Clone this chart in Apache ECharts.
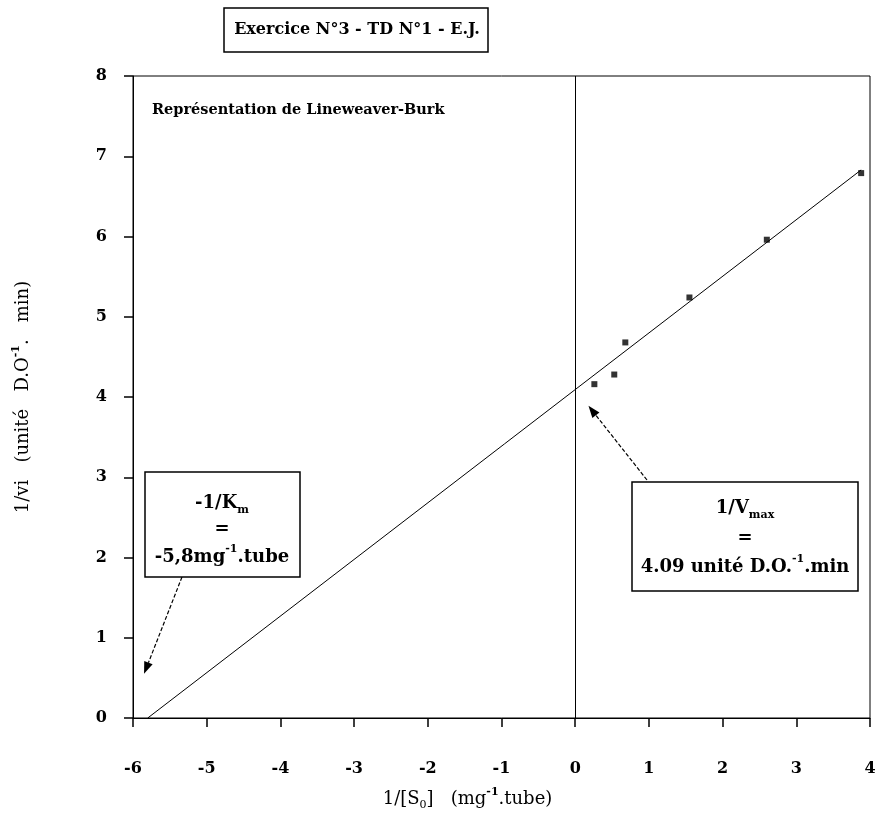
<!DOCTYPE html>
<html>
<head>
<meta charset="utf-8">
<script src="https://cdn.jsdelivr.net/npm/echarts@6/dist/echarts.min.js"></script>
<style>
html, body { margin: 0; padding: 0; background: #fff; }
#main { width: 875px; height: 839px; }
</style>
</head>
<body>
<div id="main"></div>
<script>
// mesures : 1/[S0] (mg-1.tube) et 1/vi (unité D.O-1.min)
var invS = [0.26, 0.53, 0.68, 1.55, 2.6, 3.88];
var invV = [4.16, 4.28, 4.68, 5.24, 5.96, 6.79];
// droite de Lineweaver-Burk, de -1/Km jusqu'au dernier point
var fitX = [-5.8, 3.88];
var fitY = [0, 6.83];
// intersections avec les axes
var kmInv = -5.8;
var vmaxInv = 4.09;
var xTicks = [-6, -5, -4, -3, -2, -1, 0, 1, 2, 3, 4];
var yTicks = [0, 1, 2, 3, 4, 5, 6, 7, 8];

var SERIF = '"DejaVu Serif", "Liberation Serif", serif';

var myChart = echarts.init(document.getElementById('main'));

var options = {
    animation: false,
    backgroundColor: '#fff',
    grid: {
        left: 133, right: 5, top: 76, bottom: 121,
        outerBoundsMode: 'none',
        containLabel: false,
        show: true, borderColor: '#000', borderWidth: 1
    },
    xAxis: {
        type: 'value',
        min: xTicks[0], max: xTicks[xTicks.length - 1], interval: 1,
        axisLine: { show: true, onZero: false, lineStyle: { color: '#000', width: 1 } },
        axisTick: { show: true, inside: false, length: 9, lineStyle: { color: '#000', width: 1.5 } },
        axisLabel: { margin: 43, color: '#000', fontFamily: SERIF, fontWeight: 'bold', fontSize: 16 },
        splitLine: { show: false },
        name: '{t|1/[S}{sub|0}{t|]   (mg}{sup|-1}{t|.tube)}',
        nameLocation: 'middle',
        nameGap: 69,
        nameTextStyle: {
            padding: [0, 68, 0, 0],
            rich: {
                t: { fontFamily: SERIF, fontSize: 18, color: '#000', lineHeight: 24 },
                sub: { fontFamily: SERIF, fontSize: 11, color: '#000', lineHeight: 11, verticalAlign: 'bottom' },
                sup: { fontFamily: SERIF, fontSize: 11, fontWeight: 'bold', color: '#000', lineHeight: 13, verticalAlign: 'top' }
            }
        }
    },
    yAxis: {
        type: 'value',
        min: yTicks[0], max: yTicks[yTicks.length - 1], interval: 1,
        axisLine: { show: true, onZero: false, lineStyle: { color: '#000', width: 1 } },
        axisTick: { show: true, inside: false, length: 9, lineStyle: { color: '#000', width: 1.5 } },
        axisLabel: { margin: 26, color: '#000', fontFamily: SERIF, fontWeight: 'bold', fontSize: 16 },
        splitLine: { show: false },
        name: '{t|1/vi   (unité   D.O}{sup|-1}{t|.   min)}',
        nameLocation: 'middle',
        nameGap: 98,
        nameTextStyle: {
            rich: {
                t: { fontFamily: SERIF, fontSize: 18, color: '#000', lineHeight: 24 },
                sup: { fontFamily: SERIF, fontSize: 11, fontWeight: 'bold', color: '#000', lineHeight: 13, verticalAlign: 'top' }
            }
        }
    },
    series: [
        {
            name: 'droite',
            type: 'line',
            data: fitX.map(function (x, i) { return [x, fitY[i]]; }),
            symbol: 'none',
            lineStyle: { color: '#000', width: 1 },
            silent: true,
            markLine: {
                silent: true,
                symbol: 'none',
                label: { show: false },
                lineStyle: { color: '#000', width: 1, type: 'solid' },
                data: [{ xAxis: 0 }]
            }
        },
        {
            name: 'mesures',
            type: 'scatter',
            data: invS.map(function (x, i) { return [x, invV[i]]; }),
            symbol: 'rect',
            symbolSize: 6,
            itemStyle: { color: '#000' }
        }
    ]
};

myChart.setOption(options, true);

// flèche pointillée avec tête pleine
function arrow(from, to) {
    var dx = to[0] - from[0], dy = to[1] - from[1];
    var len = Math.sqrt(dx * dx + dy * dy);
    var ux = dx / len, uy = dy / len;
    var hl = 12, hw = 4.5;
    var bx = to[0] - ux * hl, by = to[1] - uy * hl;
    return [
        { type: 'line', shape: { x1: from[0], y1: from[1], x2: bx, y2: by },
          style: { stroke: '#000', lineWidth: 1.2, lineDash: [4, 2] } },
        { type: 'polygon', shape: { points: [to, [bx - uy * hw, by + ux * hw], [bx + uy * hw, by - ux * hw]] },
          style: { fill: '#000' } }
    ];
}

function label(text, x, y, rich) {
    return {
        type: 'text', z: 10,
        style: {
            text: text, x: x, y: y,
            align: 'center', verticalAlign: 'middle',
            textAlign: 'center', textVerticalAlign: 'middle',
            rich: rich
        }
    };
}

var boxRich = {
    h: { fontFamily: SERIF, fontWeight: 'bold', fontSize: 16, color: '#000', lineHeight: 22 },
    b: { fontFamily: SERIF, fontWeight: 'bold', fontSize: 18, color: '#000', lineHeight: 26 },
    sub: { fontFamily: SERIF, fontWeight: 'bold', fontSize: 11, color: '#000', lineHeight: 11, verticalAlign: 'bottom' },
    sup: { fontFamily: SERIF, fontWeight: 'bold', fontSize: 11, color: '#000', lineHeight: 14, verticalAlign: 'top' }
};

var kmTip = myChart.convertToPixel({ gridIndex: 0 }, [kmInv - 0.05, 0.55]);
var vmTip = myChart.convertToPixel({ gridIndex: 0 }, [0.18, vmaxInv - 0.2]);

var graphic = [
    // titre
    { type: 'rect', shape: { x: 224, y: 8, width: 264, height: 44 },
      style: { fill: '#fff', stroke: '#000', lineWidth: 1.5 } },
    label('{h|Exercice N°3 - TD N°1 - E.J.}', 357, 30, boxRich),
    // sous-titre
    { type: 'text', z: 10, style: { text: 'Représentation de Lineweaver-Burk', x: 152, y: 110,
      fontFamily: SERIF, fontWeight: 'bold', fontSize: 14.5, fill: '#000',
      verticalAlign: 'middle', textVerticalAlign: 'middle' } },
    // boîte -1/Km
    { type: 'rect', z: 5, shape: { x: 145, y: 472, width: 155, height: 105 },
      style: { fill: '#fff', stroke: '#000', lineWidth: 1.5 } },
    label('{b|-1/K}{sub|m}', 222, 503, boxRich),
    label('{b|=}', 222, 529, boxRich),
    label('{b|-5,8mg}{sup|-1}{b|.tube}', 222, 557, boxRich),
    // boîte 1/Vmax
    { type: 'rect', z: 5, shape: { x: 632, y: 482, width: 226, height: 109 },
      style: { fill: '#fff', stroke: '#000', lineWidth: 1.5 } },
    label('{b|1/V}{sub|max}', 745, 508, boxRich),
    label('{b|=}', 745, 538, boxRich),
    label('{b|4.09 unité D.O.}{sup|-1}{b|.min}', 745, 567, boxRich)
];
graphic = graphic.concat(arrow([182, 577], kmTip));
graphic = graphic.concat(arrow([647, 480], vmTip));

myChart.setOption({ graphic: graphic });

window.onresize = function () {
    myChart.resize();
};
</script>
</body>
</html>
